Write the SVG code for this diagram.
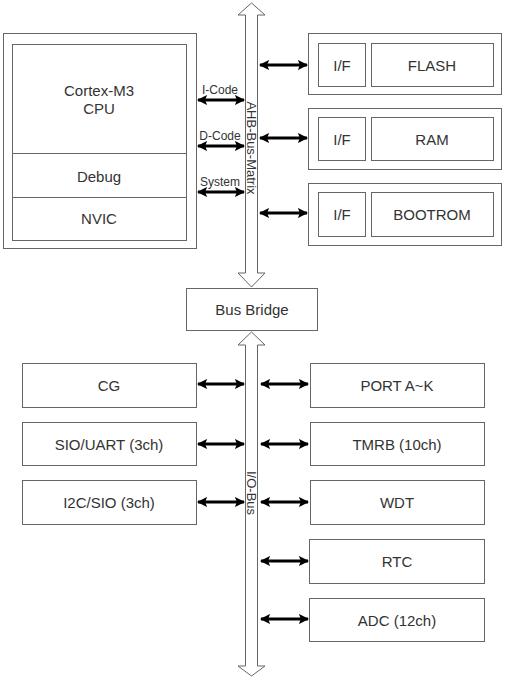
<svg xmlns="http://www.w3.org/2000/svg" width="505" height="680" viewBox="0 0 505 680">
<defs>
<marker id="ah" viewBox="0 0 10 10" refX="9" refY="5" markerWidth="3.6" markerHeight="3.4" orient="auto-start-reverse" markerUnits="strokeWidth">
<path d="M0,0 L10,5 L0,10 L2,5 Z" fill="#000"/>
</marker>
</defs>
<style>
.box{fill:#fff;stroke:#666;stroke-width:1}
.t{font-family:"Liberation Sans",Arial,sans-serif;font-size:15px;fill:#333;text-anchor:middle;dominant-baseline:central}
.s{font-family:"Liberation Sans",Arial,sans-serif;font-size:12px;fill:#333;text-anchor:middle}
.bl{font-family:"Liberation Sans",Arial,sans-serif;font-size:13px;fill:#333;text-anchor:middle;dominant-baseline:central}
.bus{fill:#fff;stroke:#666;stroke-width:1}
.c{stroke:#000;stroke-width:3;fill:none;marker-start:url(#ah);marker-end:url(#ah)}
</style>
<rect width="505" height="680" fill="#fff"/>

<g id="ahb-bus">
<path class="bus" d="M251.5,3 L265,15 L257.5,15 L257.5,273 L265,273 L251.5,287 L238,273 L245.5,273 L245.5,15 L238,15 Z"/>
<text class="bl" transform="translate(251.5,148) rotate(90)">AHB-Bus-Matrix</text>
</g>

<g id="io-bus">
<path class="bus" d="M251.5,332 L265,345 L257.5,345 L257.5,666 L265,666 L251.5,676 L238,666 L245.5,666 L245.5,345 L238,345 Z"/>
<text class="bl" transform="translate(251.5,493) rotate(90)">I/O-Bus</text>
</g>

<g id="cpu">
<rect class="box" x="3.5" y="33.5" width="193" height="215"/>
<rect class="box" x="12.5" y="44.5" width="174" height="196"/>
<line x1="12.5" y1="153.5" x2="186.5" y2="153.5" stroke="#666"/>
<line x1="12.5" y1="197.5" x2="186.5" y2="197.5" stroke="#666"/>
<text class="t" x="99" y="90">Cortex-M3</text>
<text class="t" x="99" y="108">CPU</text>
<text class="t" x="99" y="176">Debug</text>
<text class="t" x="99" y="218">NVIC</text>
</g>

<g id="flash">
<rect class="box" x="308.5" y="33.5" width="193" height="61"/>
<rect class="box" x="318.5" y="43.5" width="47" height="43"/>
<rect class="box" x="371.5" y="43.5" width="122" height="43"/>
<text class="t" x="342" y="65">I/F</text>
<text class="t" x="432" y="65">FLASH</text>
</g>
<g id="ram">
<rect class="box" x="308.5" y="108.5" width="193" height="61"/>
<rect class="box" x="318.5" y="117.5" width="47" height="43"/>
<rect class="box" x="371.5" y="117.5" width="122" height="43"/>
<text class="t" x="342" y="139">I/F</text>
<text class="t" x="432" y="139">RAM</text>
</g>
<g id="bootrom">
<rect class="box" x="308.5" y="183.5" width="193" height="62"/>
<rect class="box" x="318.5" y="192.5" width="47" height="44"/>
<rect class="box" x="371.5" y="192.5" width="122" height="44"/>
<text class="t" x="342" y="214">I/F</text>
<text class="t" x="432" y="214">BOOTROM</text>
</g>

<g id="bus-bridge">
<rect class="box" x="186.5" y="288.5" width="131" height="42"/>
<text class="t" x="252" y="309">Bus Bridge</text>
</g>

<g id="cg"><rect class="box" x="22.5" y="363.5" width="174" height="44"/><text class="t" x="109" y="385">CG</text></g>
<g id="sio-uart"><rect class="box" x="22.5" y="422.5" width="174" height="43"/><text class="t" x="109" y="444">SIO/UART (3ch)</text></g>
<g id="i2c-sio"><rect class="box" x="22.5" y="480.5" width="174" height="44"/><text class="t" x="109" y="502">I2C/SIO (3ch)</text></g>
<g id="port"><rect class="box" x="310.5" y="363.5" width="174" height="44"/><text class="t" x="397" y="385">PORT A~K</text></g>
<g id="tmrb"><rect class="box" x="310.5" y="422.5" width="174" height="43"/><text class="t" x="397" y="444">TMRB (10ch)</text></g>
<g id="wdt"><rect class="box" x="310.5" y="480.5" width="174" height="44"/><text class="t" x="397" y="502">WDT</text></g>
<g id="rtc"><rect class="box" x="309.5" y="539.5" width="175" height="44"/><text class="t" x="397" y="561">RTC</text></g>
<g id="adc"><rect class="box" x="309.5" y="598.5" width="175" height="43"/><text class="t" x="397" y="620">ADC (12ch)</text></g>

<g id="connectors">
<line class="c" x1="198" y1="100" x2="244" y2="100"/>
<line class="c" x1="198" y1="146" x2="244" y2="146"/>
<line class="c" x1="198" y1="192" x2="244" y2="192"/>
<text class="s" x="220" y="94">I-Code</text>
<text class="s" x="220" y="140">D-Code</text>
<text class="s" x="220" y="186">System</text>
<line class="c" x1="260" y1="65" x2="307" y2="65"/>
<line class="c" x1="260" y1="138" x2="307" y2="138"/>
<line class="c" x1="260" y1="213" x2="307" y2="213"/>
<line class="c" x1="198" y1="384" x2="244" y2="384"/>
<line class="c" x1="198" y1="444" x2="244" y2="444"/>
<line class="c" x1="198" y1="502" x2="244" y2="502"/>
<line class="c" x1="261" y1="384" x2="308" y2="384"/>
<line class="c" x1="261" y1="444" x2="308" y2="444"/>
<line class="c" x1="261" y1="502" x2="308" y2="502"/>
<line class="c" x1="261" y1="561" x2="308" y2="561"/>
<line class="c" x1="261" y1="619" x2="308" y2="619"/>
</g>
</svg>
